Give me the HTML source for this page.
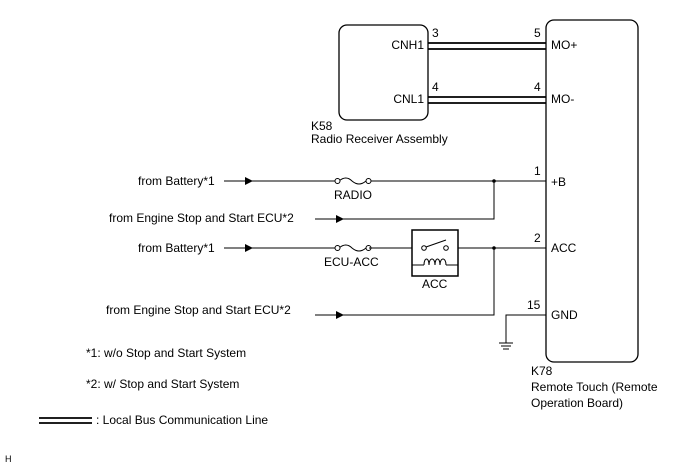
<!DOCTYPE html>
<html><head><meta charset="utf-8"><style>
html,body{margin:0;padding:0;background:#fff;}
svg{display:block;font-family:"Liberation Sans",Arial,sans-serif;font-size:12px;fill:#000;}
</style></head><body>
<svg width="688" height="463" viewBox="0 0 688 463" xmlns="http://www.w3.org/2000/svg">
<g fill="none" stroke="#000">
<rect x="339" y="25" width="89" height="95" rx="8" stroke-width="1.3"/>
<rect x="546" y="20" width="92" height="342" rx="8" stroke-width="1.3"/>
<g stroke-width="1.8">
<line x1="428" y1="43" x2="546" y2="43"/><line x1="428" y1="49" x2="546" y2="49"/>
<line x1="428" y1="97" x2="546" y2="97"/><line x1="428" y1="103" x2="546" y2="103"/>
<line x1="39" y1="418" x2="92" y2="418"/><line x1="39" y1="423" x2="92" y2="423"/>
</g>
<g stroke-width="1">
<line x1="224" y1="181" x2="336" y2="181"/>
<line x1="369" y1="181" x2="546" y2="181"/>
<path d="M339,181 q7,-6 13,0 q7,6 14,0"/>
<circle cx="337.5" cy="181" r="2.5" fill="#fff"/><circle cx="368.5" cy="181" r="2.5" fill="#fff"/>
<polyline points="315,219 494,219 494,181"/>
<line x1="224" y1="248" x2="336" y2="248"/>
<path d="M339,248 q7,-6 13,0 q7,6 14,0"/>
<circle cx="337.5" cy="248" r="2.5" fill="#fff"/><circle cx="368.5" cy="248" r="2.5" fill="#fff"/>
<line x1="369" y1="248" x2="412" y2="248"/>
<line x1="458" y1="248" x2="546" y2="248"/>
<rect x="412" y="230" width="46" height="46" stroke-width="1.5"/>
<circle cx="424" cy="248" r="2.3" fill="#fff"/><circle cx="446" cy="248" r="2.3" fill="#fff"/>
<line x1="426" y1="247" x2="446" y2="240"/>
<line x1="412" y1="265" x2="424" y2="265"/><line x1="446" y1="265" x2="458" y2="265"/>
<path d="M424,265 c0,-8 5,-8 5,0 c0,-8 6,-8 6,0 c0,-8 5,-8 5,0 c0,-8 6,-8 6,0"/>
<polyline points="315,315 494,315 494,248"/>
<polyline points="546,315 506,315 506,343"/>
<line x1="499" y1="343" x2="513" y2="343"/>
<line x1="501" y1="346" x2="511" y2="346"/>
<line x1="503" y1="349" x2="509" y2="349"/>
</g>
</g>
<g stroke="none">
<circle cx="494" cy="181" r="1.8"/><circle cx="494" cy="248" r="1.8"/>
<path d="M245,177 L253,181 L245,185Z"/><path d="M245,244 L253,248 L245,252Z"/>
<path d="M336,215 L344,219 L336,223Z"/><path d="M336,311 L344,315 L336,319Z"/>
</g>
<text x="432" y="37">3</text><text x="432" y="91">4</text>
<text x="534" y="37">5</text><text x="534" y="91">4</text>
<text x="424" y="49" text-anchor="end">CNH1</text>
<text x="424" y="103" text-anchor="end">CNL1</text>
<text x="551" y="49">MO+</text><text x="551" y="103">MO-</text>
<text x="311" y="130">K58</text>
<text x="311" y="143">Radio Receiver Assembly</text>
<text x="534" y="175">1</text><text x="551" y="186">+B</text>
<text x="534" y="242">2</text><text x="551" y="252">ACC</text>
<text x="527" y="309">15</text><text x="551" y="319">GND</text>
<text x="334" y="199">RADIO</text>
<text x="324" y="266">ECU-ACC</text>
<text x="422" y="288">ACC</text>
<text x="138" y="185">from Battery*1</text>
<text x="109" y="222">from Engine Stop and Start ECU*2</text>
<text x="138" y="252">from Battery*1</text>
<text x="106" y="314">from Engine Stop and Start ECU*2</text>
<text x="86" y="357">*1: w/o Stop and Start System</text>
<text x="86" y="388">*2: w/ Stop and Start System</text>
<text x="96" y="424">: Local Bus Communication Line</text>
<text x="531" y="375">K78</text>
<text x="531" y="391">Remote Touch (Remote</text>
<text x="531" y="407">Operation Board)</text>
<text x="5" y="462" font-size="9">H</text>
</svg>
</body></html>
